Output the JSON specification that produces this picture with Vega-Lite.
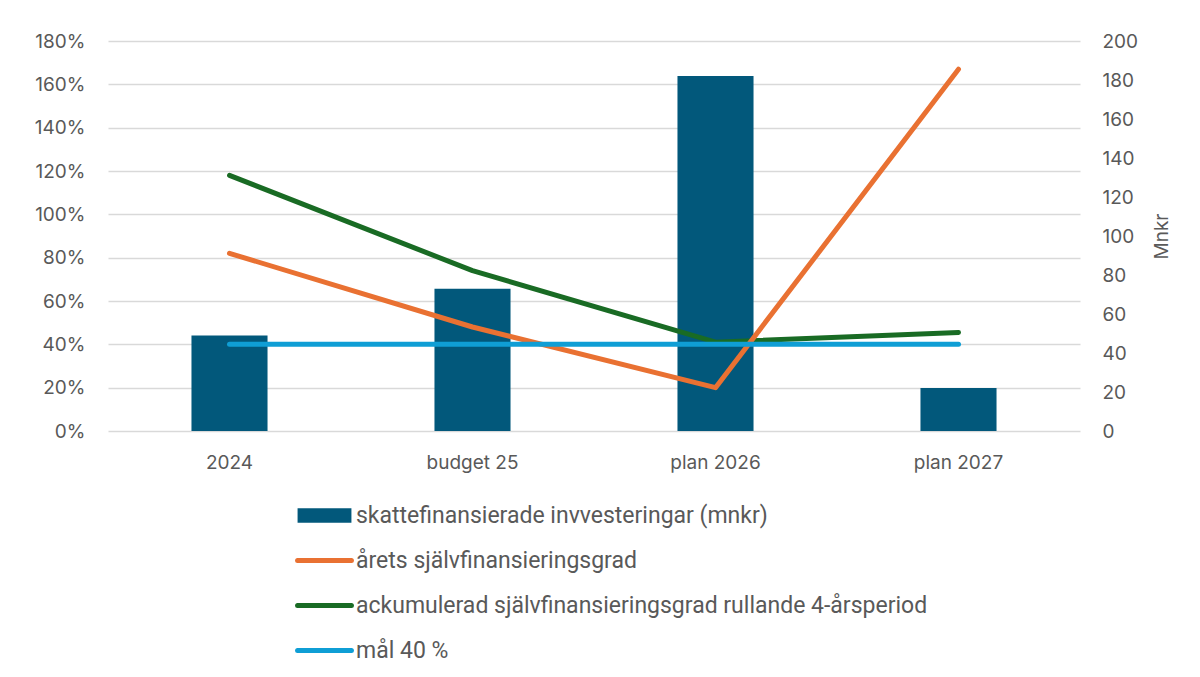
{
  "$schema": "https://vega.github.io/schema/vega-lite/v6.json",
  "width": 972,
  "height": 390,
  "autosize": "none",
  "padding": {"left": 108, "top": 41, "right": 120, "bottom": 246},
  "background": "white",
  "config": {
    "view": {"stroke": null},
    "font": "Inter",
    "axis": {"labelColor": "#595959", "labelFontSize": 19, "labelFont": "Inter", "titleColor": "#595959", "titleFont": "Inter", "titleFontWeight": "normal"}
  },
  "datasets": {
    "bars": [
      {"cat": "2024", "mnkr": 49},
      {"cat": "budget 25", "mnkr": 73},
      {"cat": "plan 2026", "mnkr": 182},
      {"cat": "plan 2027", "mnkr": 22}
    ],
    "lines": [
      {"cat": "2024", "series": "ackumulerad självfinansieringsgrad rullande 4-årsperiod", "pct": 1.18},
      {"cat": "budget 25", "series": "ackumulerad självfinansieringsgrad rullande 4-årsperiod", "pct": 0.74},
      {"cat": "plan 2026", "series": "ackumulerad självfinansieringsgrad rullande 4-årsperiod", "pct": 0.41},
      {"cat": "plan 2027", "series": "ackumulerad självfinansieringsgrad rullande 4-årsperiod", "pct": 0.455},
      {"cat": "2024", "series": "årets självfinansieringsgrad", "pct": 0.82},
      {"cat": "budget 25", "series": "årets självfinansieringsgrad", "pct": 0.48},
      {"cat": "plan 2026", "series": "årets självfinansieringsgrad", "pct": 0.20},
      {"cat": "plan 2027", "series": "årets självfinansieringsgrad", "pct": 1.67},
      {"cat": "2024", "series": "mål 40 %", "pct": 0.40},
      {"cat": "budget 25", "series": "mål 40 %", "pct": 0.40},
      {"cat": "plan 2026", "series": "mål 40 %", "pct": 0.40},
      {"cat": "plan 2027", "series": "mål 40 %", "pct": 0.40}
    ]
  },
  "encoding": {
    "x": {
      "field": "cat",
      "type": "nominal",
      "sort": null,
      "scale": {"paddingInner": 0.687, "paddingOuter": 0.3435},
      "axis": {"title": null, "labelAngle": 0, "domain": false, "ticks": false, "labelPadding": 22, "labelFontSize": 19}
    }
  },
  "layer": [
    {
      "data": {"name": "bars"},
      "mark": {"type": "bar", "color": "#02587B"},
      "encoding": {
        "y": {
          "field": "mnkr",
          "type": "quantitative",
          "scale": {"domain": [0, 200], "nice": false},
          "axis": {"orient": "right", "title": "Mnkr", "titleAngle": 270, "titleFontSize": 19, "titlePadding": 34, "tickCount": 10, "grid": false, "domain": false, "ticks": false, "labelPadding": 22}
        },
        "color": {"datum": "skattefinansierade invvesteringar (mnkr)"}
      }
    },
    {
      "data": {"name": "lines"},
      "mark": {"type": "line", "strokeWidth": 5, "strokeCap": "round", "strokeJoin": "round"},
      "encoding": {
        "y": {
          "field": "pct",
          "type": "quantitative",
          "scale": {"domain": [0, 1.8], "nice": false},
          "axis": {"orient": "left", "title": null, "format": ".0%", "values": [0, 0.2, 0.4, 0.6, 0.8, 1.0, 1.2, 1.4, 1.6, 1.8], "grid": true, "gridColor": "#D9D9D9", "gridWidth": 1.5, "domain": false, "ticks": false, "labelPadding": 23}
        },
        "color": {
          "field": "series",
          "type": "nominal",
          "scale": {
            "domain": ["skattefinansierade invvesteringar (mnkr)", "årets självfinansieringsgrad", "ackumulerad självfinansieringsgrad rullande 4-årsperiod", "mål 40 %"],
            "range": ["#02587B", "#E97132", "#196B24", "#0F9ED5"]
          },
          "legend": {
            "title": null,
            "orient": "none",
            "legendX": 205,
            "legendY": 463,
            "direction": "vertical",
            "symbolType": "stroke",
            "symbolSize": 2900,
            "symbolStrokeWidth": 5,
            "labelFont": "Roboto",
            "labelFontSize": 23,
            "labelColor": "#595959",
            "labelOffset": 20,
            "labelLimit": 800,
            "rowPadding": 21,
            "encode": {
              "symbols": {
                "update": {
                  "shape": {"signal": "datum.value === 'skattefinansierade invvesteringar (mnkr)' ? 'M-1,-0.27H1V0.27H-1Z' : 'stroke'"},
                  "strokeWidth": {"signal": "datum.value === 'skattefinansierade invvesteringar (mnkr)' ? 0 : 5"},
                  "fill": {"signal": "datum.value === 'skattefinansierade invvesteringar (mnkr)' ? '#02587B' : 'transparent'"},
                  "stroke": {"signal": "scale('color', datum.value)"},
                  "strokeCap": {"value": "round"},
                  "opacity": {"value": 1}
                }
              }
            }
          }
        }
      }
    }
  ],
  "resolve": {"scale": {"y": "independent"}}
}
